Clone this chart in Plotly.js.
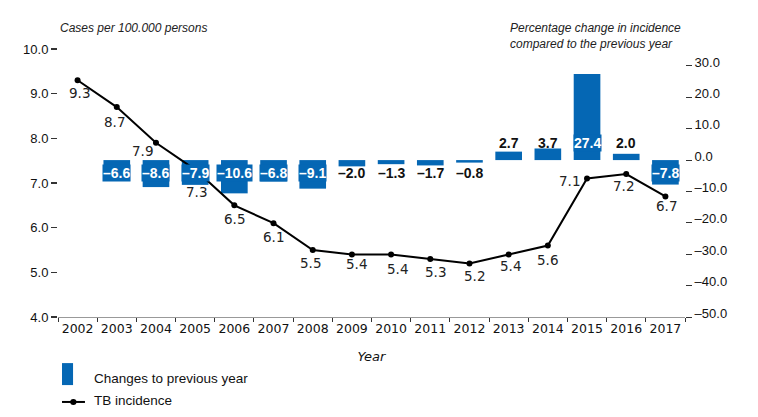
<!DOCTYPE html>
<html>
<head>
<meta charset="utf-8">
<script src="https://cdn.plot.ly/plotly-3.0.1.min.js"></script>
<style>html,body{margin:0;padding:0;background:#fff;}#chart{width:758px;height:417px;}</style>
</head>
<body>
<div id="chart"></div>
<script>
// ---- data ----
var years = ['2002','2003','2004','2005','2006','2007','2008','2009','2010','2011','2012','2013','2014','2015','2016','2017'];
var incidence = [9.3, 8.7, 7.9, 7.3, 6.5, 6.1, 5.5, 5.4, 5.4, 5.3, 5.2, 5.4, 5.6, 7.1, 7.2, 6.7];
var changeYears = ['2003','2004','2005','2006','2007','2008','2009','2010','2011','2012','2013','2014','2015','2016','2017'];
var changes = [-6.6, -8.6, -7.9, -10.6, -6.8, -9.1, -2.0, -1.3, -1.7, -0.8, 2.7, 3.7, 27.4, 2.0, -7.8];
var leftTicks = [4, 5, 6, 7, 8, 9, 10];
var rightTicks = [-50, -40, -30, -20, -10, 0, 10, 20, 30];
var legendNames = ['Changes to previous year', 'TB incidence'];

// ---- styles ----
var BLUE = '#0567b4';
// label offsets (px) for incidence labels: [dx, dy]
var lineLabelOffsets = [[2,13],[-2,15],[-13,8],[1,22],[0,14],[0,14],[-2,13],[5,10],[6,15],[5,13],[5,13],[2,12],[0,14],[-18,2],[-3,12],[1,10]];

var barTrace = {
  type: 'bar', x: changeYears, y: changes, yaxis: 'y',
  name: legendNames[0],
  marker: {color: BLUE, line: {width: 0}},
  width: 0.68, hoverinfo: 'skip'
};
var lineTrace = {
  type: 'scatter', mode: 'lines+markers', x: years, y: incidence, yaxis: 'y2',
  name: legendNames[1],
  line: {color: '#000', width: 2},
  marker: {color: '#000', size: 6}, hoverinfo: 'skip'
};

function fmt(v) { return (v < 0 ? '\u2013' + Math.abs(v).toFixed(1) : v.toFixed(1)); }

var annotations = [];
for (var i = 0; i < changes.length; i++) {
  var v = changes[i];
  var inside = Math.abs(v) > 5;
  annotations.push({
    x: years.indexOf(changeYears[i]), y: 0, xref: 'x', yref: 'y',
    text: '<b>' + fmt(v) + '</b>',
    showarrow: false, xanchor: 'center', yanchor: 'middle',
    yshift: v > 0 ? 17 : -13,
    font: {family: 'Liberation Sans, Arial', size: 14, color: inside ? '#ffffff' : '#111111'},
    bgcolor: inside ? BLUE : 'rgba(0,0,0,0)', borderpad: 0
  });
}
for (var j = 0; j < incidence.length; j++) {
  annotations.push({
    x: j, y: incidence[j], xref: 'x', yref: 'y2',
    text: incidence[j].toFixed(1), showarrow: false, xanchor: 'center', yanchor: 'middle',
    xshift: lineLabelOffsets[j][0], yshift: -lineLabelOffsets[j][1],
    font: {family: 'DejaVu Sans, Verdana', size: 13.5, color: '#222222'}
  });
}
annotations.push({
  xref: 'paper', yref: 'paper', x: 0, y: 1.045, xanchor: 'left', yanchor: 'bottom',
  text: '<i>Cases per 100.000 persons</i>', showarrow: false, align: 'left',
  font: {family: 'Liberation Sans, Arial', size: 12, color: '#222222'}
});
annotations.push({
  xref: 'paper', yref: 'paper', x: 0.718, y: 0.985, xanchor: 'left', yanchor: 'bottom',
  text: '<i>Percentage change in incidence<br>compared to the previous year</i>', showarrow: false, align: 'left',
  font: {family: 'Liberation Sans, Arial', size: 12, color: '#222222'}
});
// custom legend (paper coordinates)
var legendY = [-0.228, -0.31];
for (var k = 0; k < legendNames.length; k++) {
  annotations.push({
    xref: 'paper', yref: 'paper', x: 0.055, y: legendY[k], xanchor: 'left', yanchor: 'middle',
    text: legendNames[k], showarrow: false,
    font: {family: 'Liberation Sans, Arial', size: 13.5, color: '#111111'}
  });
}
var shapes = [
  {type: 'rect', xref: 'paper', yref: 'paper', x0: 0.0064, x1: 0.024, y0: -0.172, y1: -0.254,
   fillcolor: BLUE, line: {width: 0}},
  {type: 'line', xref: 'paper', yref: 'paper', x0: 0.0064, x1: 0.043, y0: -0.317, y1: -0.317,
   line: {color: '#000', width: 2}},
  {type: 'circle', xref: 'paper', yref: 'paper', x0: 0.0195, x1: 0.0295, y0: -0.3058, y1: -0.3282,
   fillcolor: '#000', line: {width: 0}}
];

var layout = {
  width: 758, height: 417,
  margin: {l: 58, r: 73, t: 49, b: 100},
  paper_bgcolor: '#fff', plot_bgcolor: '#fff',
  showlegend: false,
  xaxis: {
    type: 'category', categoryorder: 'array', categoryarray: years, range: [-0.5, 15.5],
    showline: true, linecolor: '#999', linewidth: 1, tickangle: 0,
    ticks: 'outside', tickson: 'boundaries', ticklen: 4, tickcolor: '#333', tickwidth: 1,
    showgrid: false, zeroline: false,
    tickfont: {family: 'DejaVu Sans, Verdana', size: 12.5, color: '#111'},
    title: {text: '<i>Year</i>', font: {family: 'DejaVu Sans, Verdana', size: 13, color: '#111'}, standoff: 16}
  },
  yaxis: {
    side: 'right', range: [-50, 35.4],
    tickvals: rightTicks, ticktext: rightTicks.map(fmt),
    ticks: 'outside', ticklen: 6, tickcolor: '#333', tickwidth: 1, ticklabelshift: -4,
    showgrid: false, zeroline: false, showline: false,
    tickfont: {family: 'Liberation Sans, Arial', size: 13, color: '#111'}
  },
  yaxis2: {
    side: 'left', overlaying: 'y', range: [4, 10],
    tickvals: leftTicks, ticktext: leftTicks.map(function(t){ return t.toFixed(1); }),
    ticks: 'outside', ticklen: 6, tickcolor: '#333', tickwidth: 1.5,
    showgrid: false, zeroline: false, showline: false,
    tickfont: {family: 'Liberation Sans, Arial', size: 13, color: '#111'}
  },
  annotations: annotations,
  shapes: shapes
};

Plotly.newPlot('chart', [barTrace, lineTrace], layout, {staticPlot: true, displayModeBar: false});
</script>
</body>
</html>
